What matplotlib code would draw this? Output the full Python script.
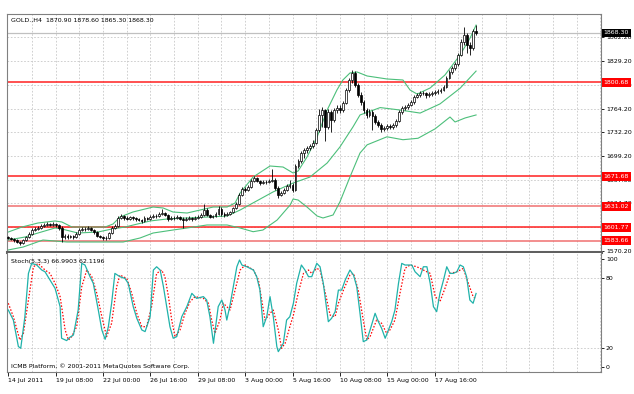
import numpy as np
import matplotlib.pyplot as plt
from matplotlib.transforms import blended_transform_factory

plt.rcParams['font.family'] = ['Liberation Sans Narrow', 'DejaVu Sans']

# ---- data (GOLD H4, one value per bar) ----
close = [1587.4, 1586.0, 1584.6, 1581.9, 1580.5, 1584.6, 1588.7, 1592.8, 1598.3, 1599.7,
         1601.1, 1603.8, 1605.2, 1606.6, 1605.2, 1606.6, 1605.2, 1601.1, 1588.7, 1590.1,
         1588.7, 1590.1, 1588.7, 1592.8, 1598.3, 1599.7, 1599.7, 1601.1, 1598.3, 1595.6,
         1590.1, 1588.7, 1587.4, 1587.4, 1594.2, 1601.1, 1603.8, 1614.8, 1617.5, 1614.8,
         1613.4, 1616.1, 1614.8, 1613.4, 1612.0, 1610.7, 1614.8, 1613.4, 1616.1, 1617.5,
         1617.5, 1620.3, 1621.6, 1618.9, 1613.4, 1614.8, 1614.8, 1616.1, 1613.4, 1612.0,
         1613.4, 1614.8, 1613.4, 1614.8, 1616.1, 1618.9, 1625.7, 1618.9, 1616.1, 1617.5,
         1620.3, 1627.1, 1620.3, 1618.9, 1620.3, 1623.0, 1628.5, 1634.0, 1646.3, 1654.5,
         1653.1, 1657.2, 1665.5, 1669.6, 1665.5, 1662.7, 1664.1, 1664.1, 1665.5, 1666.8,
         1655.9, 1646.3, 1649.0, 1653.1, 1658.6, 1660.0, 1653.1, 1686.0, 1692.9, 1703.8,
         1708.0, 1710.7, 1713.4, 1717.5, 1735.3, 1755.9, 1762.7, 1739.4, 1760.0, 1749.0,
         1762.7, 1765.5, 1762.7, 1772.3, 1790.1, 1803.8, 1813.4, 1797.0, 1783.3, 1773.7,
         1762.7, 1755.9, 1760.0, 1754.5, 1746.3, 1742.2, 1736.7, 1738.0, 1740.8, 1739.4,
         1742.2, 1747.7, 1760.0, 1765.5, 1766.9, 1769.6, 1773.7, 1780.5, 1783.3, 1786.0,
         1786.0, 1783.3, 1784.7, 1786.0, 1787.4, 1788.8, 1790.1, 1794.2, 1806.6, 1814.8,
         1820.3, 1825.7, 1838.1, 1855.9, 1865.5, 1851.8, 1847.7, 1870.9, 1868.3]
high = [1590.5, 1589.0, 1587.5, 1586.0, 1583.5, 1586.5, 1590.5, 1595.0, 1600.5, 1602.0,
        1603.5, 1606.0, 1608.0, 1609.5, 1608.5, 1609.0, 1608.0, 1607.0, 1604.0, 1593.0,
        1592.5, 1592.0, 1592.0, 1595.0, 1600.5, 1602.5, 1602.0, 1603.5, 1602.5, 1600.0,
        1597.0, 1592.0, 1590.5, 1590.0, 1596.0, 1603.5, 1606.5, 1617.0, 1620.0, 1619.0,
        1617.0, 1618.0, 1618.0, 1616.5, 1615.0, 1614.0, 1617.0, 1616.5, 1618.5, 1620.0,
        1620.5, 1623.0, 1627.0, 1623.5, 1620.0, 1617.0, 1617.5, 1618.5, 1618.0, 1615.5,
        1616.0, 1617.0, 1616.5, 1617.0, 1618.5, 1621.0, 1634.0, 1628.0, 1620.5, 1619.5,
        1622.5, 1631.0, 1629.5, 1622.5, 1622.5, 1625.0, 1630.5, 1636.5, 1648.5, 1657.0,
        1657.5, 1660.0, 1668.0, 1672.5, 1671.5, 1667.5, 1666.5, 1666.5, 1668.0, 1682.0,
        1669.0, 1658.0, 1652.0, 1655.5, 1661.0, 1667.0, 1662.5, 1688.5, 1695.5, 1706.0,
        1711.0, 1713.5, 1716.0, 1721.0, 1738.0, 1764.0, 1767.0, 1764.0, 1764.0, 1763.0,
        1766.0, 1769.0, 1769.0, 1775.0, 1793.0, 1807.0, 1817.0, 1815.5, 1800.0, 1787.0,
        1776.0, 1766.0, 1763.5, 1762.5, 1757.0, 1749.0, 1744.5, 1741.0, 1743.5, 1743.0,
        1745.0, 1750.5, 1763.0, 1768.0, 1770.0, 1772.0, 1776.0, 1783.0, 1786.0, 1788.5,
        1789.0, 1788.0, 1787.5, 1788.5, 1790.0, 1791.0, 1792.5, 1797.0, 1809.0, 1817.5,
        1823.0, 1829.0, 1841.0, 1860.0, 1876.0, 1868.0, 1856.0, 1874.0, 1878.6]
low = [1585.5, 1584.0, 1582.5, 1580.0, 1578.0, 1579.0, 1583.0, 1587.0, 1591.5, 1596.5,
       1598.0, 1600.0, 1602.5, 1604.0, 1603.5, 1604.0, 1603.0, 1599.0, 1582.0, 1586.5,
       1586.0, 1587.0, 1586.5, 1587.5, 1591.5, 1597.0, 1597.5, 1598.0, 1596.5, 1593.5,
       1588.5, 1587.0, 1585.0, 1584.5, 1586.0, 1593.0, 1599.5, 1602.5, 1613.0, 1612.5,
       1611.5, 1612.0, 1612.5, 1611.0, 1610.0, 1608.5, 1609.5, 1611.5, 1612.0, 1614.5,
       1615.0, 1616.0, 1618.5, 1617.0, 1611.0, 1611.5, 1612.5, 1613.0, 1611.5, 1601.0,
       1610.5, 1612.0, 1611.0, 1612.0, 1613.0, 1615.0, 1617.0, 1617.0, 1614.5, 1614.5,
       1616.0, 1618.5, 1618.0, 1616.5, 1617.5, 1619.0, 1621.5, 1627.0, 1632.5, 1645.0,
       1650.5, 1651.5, 1656.0, 1664.0, 1663.5, 1660.5, 1661.0, 1661.5, 1662.5, 1663.5,
       1653.5, 1642.0, 1644.5, 1647.5, 1651.5, 1656.5, 1650.5, 1651.5, 1683.0, 1690.0,
       1697.0, 1704.0, 1708.0, 1711.0, 1715.5, 1733.0, 1740.0, 1720.0, 1737.0, 1733.0,
       1746.0, 1758.0, 1759.0, 1760.0, 1770.5, 1788.0, 1800.0, 1794.0, 1780.0, 1770.0,
       1758.0, 1752.0, 1753.0, 1735.0, 1743.0, 1739.0, 1733.0, 1733.5, 1735.5, 1736.0,
       1736.5, 1740.0, 1746.0, 1757.5, 1762.5, 1764.5, 1767.5, 1771.5, 1778.5, 1781.0,
       1783.5, 1779.0, 1781.0, 1782.5, 1783.0, 1785.0, 1786.5, 1788.5, 1792.5, 1804.5,
       1812.0, 1818.0, 1823.5, 1836.0, 1852.0, 1841.0, 1838.0, 1845.5, 1865.3]
first_open = 1589.0
opens = [first_open] + close[:-1]

# Bollinger bands, read at points along the lines (bar index, price)
up_x = [0, 4.6, 10, 15.8, 18.1, 21.5, 28.3, 32.7, 35.4, 37.7, 42.1, 48.9, 52.3, 55.6, 60.4, 64.8,
        69.2, 73.9, 76.6, 78.3, 82.7, 88.4, 92.8, 96.2, 97.9, 100.9, 104.3, 107.7, 111, 113,
        115.4, 117.8, 121.2, 127.9, 133.3, 135.7, 138.1, 142.5, 147.5, 152.6, 156, 158]
up_v = [1595.6, 1602.4, 1607.9, 1610.7, 1609.3, 1602.4, 1602.4, 1602.4, 1606.6, 1616.1, 1623.0,
        1629.8, 1628.5, 1623.0, 1621.6, 1625.7, 1629.8, 1629.8, 1635.3, 1649.0, 1670.9, 1686.0,
        1684.6, 1676.4, 1679.2, 1698.3, 1725.7, 1762.7, 1790.1, 1803.8, 1813.4, 1814.8, 1809.3,
        1805.2, 1803.8, 1790.1, 1784.5, 1792.9, 1810.7, 1838.1, 1861.4, 1879.0]
mid_x = [0, 5.6, 10, 15.8, 18.1, 23.5, 30.3, 35, 39.4, 47.9, 53.6, 60.4, 67.2, 73.9, 78.3, 89.4,
         96.2, 101.9, 107.7, 112, 116.4, 118.8, 125.6, 132.3, 139.1, 145.8, 152.6, 158]
mid_v = [1584.6, 1588.7, 1594.2, 1601.1, 1599.7, 1594.2, 1595.6, 1599.7, 1602.4, 1610.7, 1613.4,
         1614.8, 1616.1, 1617.5, 1625.7, 1650.4, 1662.7, 1670.9, 1690.1, 1712.0, 1739.4, 1755.9,
         1766.0, 1762.7, 1758.5, 1771.0, 1792.5, 1816.0]
low_x = [0, 5, 11.7, 19.8, 31, 38.8, 44.5, 48.9, 55.6, 60.4, 67.1, 73.9, 78.3, 82.7, 86, 90.8,
         95.2, 96.2, 97.9, 100.9, 104.3, 106.3, 109.7, 112, 115.4, 118.8, 121.2, 127.9, 133.3,
         138.4, 144.2, 149.2, 150.9, 154.3, 158]
low_v = [1571.0, 1575.0, 1584.6, 1581.9, 1581.9, 1581.9, 1587.4, 1594.2, 1598.3, 1601.1, 1605.2,
         1605.2, 1601.1, 1596.0, 1598.3, 1612.0, 1632.6, 1640.8, 1639.4, 1629.8, 1617.5, 1614.8,
         1618.9, 1636.7, 1670.9, 1703.8, 1715.0, 1726.0, 1722.0, 1724.0, 1737.0, 1753.1, 1746.3,
         1751.8, 1755.9]

# Stochastic (5,3,3)
k_x = [0, 1.7, 3.4, 4.2, 5.6, 6.8, 7.9, 9.6, 11.3, 12.4, 14.1, 15.8, 17.5, 18, 19.7, 20.8, 22,
       23.6, 24.8, 25.9, 27.6, 28.7, 30.4, 31.6, 32.7, 33.8, 34.9, 36, 37.7, 39.4, 40.5, 42.2,
       43.4, 45.1, 46.2, 47.9, 49, 50.1, 51.3, 52.4, 53.5, 54.6, 55.7, 56.9, 58.6, 60.3, 62,
       63.6, 65.9, 67, 68.1, 69.3, 70.9, 72.1, 73.2, 73.8, 74.9, 76, 77.2, 78.1, 78.9, 80.6,
       82.8, 83.9, 85, 86.1, 87.3, 88.4, 89.5, 90.7, 91.2, 92.9, 94, 95.1, 96.3, 97.4, 99,
       100.2, 101.4, 102.5, 104.2, 105.3, 106.4, 108.1, 109.2, 110.4, 111.5, 112.6, 113.8,
       115.4, 116.6, 117.7, 118.8, 119.9, 121.1, 122.2, 123.9, 125, 126.1, 127.3, 128.4, 129.5,
       130.6, 131.8, 132.9, 134, 135.1, 136.3, 137.4, 139.1, 140.2, 141.4, 142.5, 143.6, 144.7,
       145.8, 147, 148.1, 149.2, 150.3, 151.5, 152.6, 153.7, 154.8, 155.9, 157, 158]
k_v = [52.8, 44.2, 21.5, 20.0, 47.1, 84.2, 92.8, 91.4, 87.1, 85.6, 78.5, 71.4, 55.7, 28.6, 26.6,
       29.4, 31.4, 52.8, 92.8, 91.4, 81.4, 75.7, 52.8, 35.7, 27.7, 38.5, 58.6, 84.2, 81.4, 79.9,
       75.7, 55.7, 45.7, 35.7, 34.3, 47.1, 87.1, 89.9, 87.1, 72.8, 55.7, 38.5, 28.6, 30.0, 47.1,
       55.7, 67.1, 62.8, 64.3, 61.4, 47.1, 24.3, 55.7, 61.4, 52.8, 44.2, 57.1, 72.8, 89.9, 95.7,
       91.4, 89.9, 87.1, 81.4, 69.9, 38.5, 47.1, 64.3, 47.1, 21.5, 17.1, 24.3, 44.2, 47.1, 58.6,
       75.7, 91.4, 87.1, 81.4, 81.4, 92.8, 89.9, 75.7, 42.8, 45.7, 51.4, 69.9, 69.9, 78.5, 87.1,
       82.8, 72.8, 50.0, 25.7, 27.1, 35.7, 50.0, 42.8, 37.1, 28.6, 35.7, 42.8, 52.8, 75.7, 92.8,
       91.4, 91.4, 91.4, 85.6, 81.4, 89.9, 89.9, 75.7, 55.7, 51.4, 67.1, 78.5, 89.9, 84.2, 84.2,
       85.6, 91.4, 89.9, 81.4, 61.4, 58.6, 67.0]
d_x = [0, 1.7, 3.9, 5.1, 6.8, 8.5, 10.1, 12.4, 14.1, 15.8, 17.5, 19.2, 20.3, 21.4, 23.1, 24.8,
       26.5, 28.2, 29.9, 31.6, 33.2, 34.9, 36.6, 37.7, 40, 41.7, 43.4, 45.1, 46.7, 48.4, 50.1,
       51.8, 52.9, 54.1, 55.2, 56.3, 58, 59.7, 61.4, 63.1, 65.9, 67.6, 68.7, 69.8, 71.5, 72.6,
       73.8, 74.9, 76.6, 78.3, 80, 82.8, 84.5, 85.6, 86.7, 88.4, 89.5, 91.2, 92.3, 93.5, 95.1,
       96.3, 97.9, 99.7, 101.4, 102.5, 104.2, 105.3, 107.1, 108.7, 110.4, 111.5, 113.2, 115.4,
       116.6, 118.2, 119.9, 121.1, 122.2, 124.4, 126.1, 127.8, 128.9, 130.6, 132.3, 134, 135.7,
       138, 140.2, 142.5, 144.2, 145.8, 147.5, 149.2, 151.5, 153.7, 155.4, 157, 158]
d_v = [58.6, 47.1, 27.1, 32.8, 61.4, 89.9, 92.8, 87.1, 84.2, 75.7, 64.3, 35.7, 27.1, 30.0, 38.5,
       72.8, 87.1, 81.4, 67.1, 47.1, 30.0, 41.4, 72.8, 82.8, 79.9, 67.1, 50.0, 38.5, 38.5, 55.7,
       84.2, 87.1, 81.4, 64.3, 44.2, 30.0, 35.7, 50.0, 60.0, 64.3, 62.8, 58.6, 44.2, 32.8, 44.2,
       58.6, 55.7, 52.8, 69.9, 87.1, 91.4, 87.1, 78.5, 61.4, 44.2, 50.0, 52.8, 35.7, 20.0, 24.3,
       38.5, 48.5, 67.1, 84.2, 87.1, 84.2, 88.5, 87.1, 67.1, 48.5, 47.1, 58.6, 69.9, 82.8, 84.2,
       69.9, 44.2, 27.1, 30.0, 44.2, 41.4, 32.8, 35.7, 44.2, 67.1, 88.5, 91.4, 89.9, 87.1, 84.2,
       64.3, 60.0, 71.4, 84.2, 85.6, 88.5, 75.7, 64.3, 62.1]

levels = [1800.68, 1671.68, 1631.02, 1601.77, 1583.66]
level_colors = ['#ff2020', '#ff2020', '#f07070', '#ff2020', '#f07070']
bid = 1868.30
price_grid = [1570.20, 1602.50, 1634.70, 1667.00, 1699.20, 1732.20, 1764.20, 1796.70, 1829.20, 1862.20]
date_labels = ['14 Jul 2011', '19 Jul 08:00', '22 Jul 00:00', '26 Jul 16:00', '29 Jul 08:00',
               '3 Aug 00:00', '5 Aug 16:00', '10 Aug 08:00', '15 Aug 00:00', '17 Aug 16:00']
date_pos = [0, 16, 32, 48, 64, 80, 96, 112, 128, 144]

fs = 4.5
grid_c = '#c8c8c8'
frame_c = '#808080'

fig = plt.figure(figsize=(6.34, 3.94), dpi=100)
ax = fig.add_axes([7 / 634, 1 - 252 / 394, 594 / 634, 238 / 394])
ax2 = fig.add_axes([7 / 634, 1 - 372 / 394, 594 / 634, 119 / 394])

xmin, xmax = -0.44, 200.2
for a in (ax, ax2):
    a.set_xlim(xmin, xmax)
    for k in range(8, 201, 8):
        a.axvline(k, color=grid_c, ls=(0, (2, 2)), lw=0.6, zorder=0)
    for s in a.spines.values():
        s.set_color(frame_c)
        s.set_linewidth(0.8)

# ---- main price panel ----
ax.set_ylim(1568.2, 1894.2)
for p in price_grid:
    ax.axhline(p, color=grid_c, ls=(0, (2, 2)), lw=0.6, zorder=0)
ax.axhline(bid, color='#c0c0c0', lw=0.9, zorder=1)
for lv, lc in zip(levels, level_colors):
    ax.axhline(lv, color=lc, lw=1.1, zorder=1)

ax.plot(up_x, up_v, color='#4cbf7a', lw=0.8, zorder=2)
ax.plot(mid_x, mid_v, color='#4cbf7a', lw=0.8, zorder=2)
ax.plot(low_x, low_v, color='#4cbf7a', lw=0.8, zorder=2)

x = np.arange(len(close))
o = np.array(opens)
c = np.array(close)
ax.vlines(x, low, high, color='black', lw=0.6, zorder=3)
bull = c >= o
body_lo = np.minimum(o, c)
body_h = np.maximum(np.abs(c - o), 0.4)
ax.bar(x[bull], body_h[bull], bottom=body_lo[bull], width=0.62, color='white',
       edgecolor='black', linewidth=0.5, zorder=4)
ax.bar(x[~bull], body_h[~bull], bottom=body_lo[~bull], width=0.62, color='black',
       edgecolor='black', linewidth=0.5, zorder=4)

ax.set_xticks([])
ax.yaxis.tick_right()
ax.set_yticks(price_grid)
ax.set_yticklabels(['%.2f' % p for p in price_grid])
ax.tick_params(axis='y', labelsize=fs, length=2, width=0.6, pad=1.5, colors='black')
ax.spines['bottom'].set_color('#606060')
ax.spines['bottom'].set_linewidth(2.2)

trans = blended_transform_factory(ax.transAxes, ax.transData)
for lv, lc in zip(levels, level_colors):
    ax.text(1.004, lv, '%.2f' % lv, transform=trans, fontsize=fs, color='white',
            ha='left', va='center', clip_on=False, zorder=10,
            bbox=dict(boxstyle='square,pad=0.3', fc='#ff0000', ec='none'))
ax.text(1.004, bid, '%.2f' % bid, transform=trans, fontsize=fs, color='white',
        ha='left', va='center', clip_on=False, zorder=10,
        bbox=dict(boxstyle='square,pad=0.3', fc='black', ec='none'))

# ---- stochastic panel ----
ax2.set_ylim(-0.34, 101.7)
ax2.axhline(80, color=grid_c, ls=(0, (2, 2)), lw=0.6, zorder=0)
ax2.axhline(20, color=grid_c, ls=(0, (2, 2)), lw=0.6, zorder=0)
ax2.plot(k_x, k_v, color='#20b2aa', lw=0.9, zorder=3)
ax2.plot(d_x, d_v, color='#ff0000', lw=0.9, ls=(0, (1.2, 1.4)), zorder=2)
ax2.spines['top'].set_visible(False)
ax2.yaxis.tick_right()
ax2.set_yticks([3.9, 20, 80, 96.5])
ax2.set_yticklabels(['0', '20', '80', '100'])
ax2.tick_params(axis='y', labelsize=fs, length=2, width=0.6, pad=1.5)
ax2.set_xticks(date_pos)
ax2.set_xticklabels(date_labels)
ax2.tick_params(axis='x', labelsize=fs, length=3, width=0.6, pad=1.5)
for lbl in ax2.get_xticklabels():
    lbl.set_ha('left')

fig.text(11 / 634, 1 - 20 / 394, 'GOLD.,H4  1870.90 1878.60 1865.30 1868.30', fontsize=fs,
         ha='left', va='center')
fig.text(11 / 634, 1 - 262 / 394, 'Stoch(5,3,3) 66.9903 62.1196', fontsize=fs,
         ha='left', va='center')
fig.text(11 / 634, 1 - 366 / 394, 'ICMB Platform, \u00a9 2001-2011 MetaQuotes Software Corp.',
         fontsize=fs, ha='left', va='center')

fig.savefig('out.png', dpi=100, facecolor='white')
